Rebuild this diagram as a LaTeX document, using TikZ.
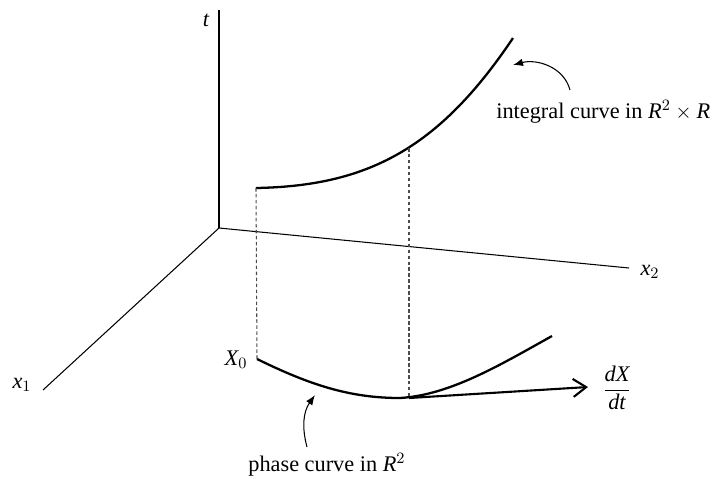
\documentclass[tikz,border=0pt]{standalone}
\usepackage{amsmath}
\usepackage{fontspec}
\setmainfont{Liberation Serif}
\usepackage{tikz}
\usetikzlibrary{arrows.meta, positioning}

\begin{document}
\begin{tikzpicture}[
    x=0.02cm, y=-0.02cm,
    font=\fontsize{12.7}{15}\selectfont,
    axis/.style={line width=0.6pt},
    curve/.style={line width=1.3pt},
    drop/.style={dashed, dash pattern=on 2pt off 1.4pt, line width=0.6pt, black!70},
    note/.style={->, line width=0.6pt, >={Latex[length=2mm, width=1.5mm]}},
    tangent/.style={->, line width=1.2pt, >={Straight Barb[length=2.6mm, width=3.6mm]}},
    lbl/.style={inner sep=0pt}
]
\useasboundingbox (0,0) rectangle (714,478);

% Axes
\coordinate (O) at (219,228);
\coordinate (tEnd) at (219,10);
\coordinate (xTwoEnd) at (629,268);
\coordinate (xOneEnd) at (43,390);
\draw[axis] (O) -- (tEnd);
\draw[axis] (O) -- (xTwoEnd);
\draw[axis] (O) -- (xOneEnd);
\node[lbl] (tlab) at (206,20) {$\mathit{t}$};
\node[lbl] (xtwolab) at (650,272) {$\mathit{x}_{2}$};
\node[lbl] (xonelab) at (22,385) {$\mathit{x}_{1}$};

% Integral curve
\coordinate (ic0) at (256,188);
\coordinate (icA) at (409,148);
\coordinate (ic1) at (513,38);
\draw[curve] (ic0) .. controls (366,186) and (438,150) .. (ic1);

% Phase curve
\coordinate (pc0) at (257,359);
\coordinate (pcA) at (409,398);
\coordinate (pc1) at (552,336);
\draw[curve] (pc0) .. controls (310,385) and (350,398) .. (400,398)
    .. controls (450,395) and (500,365) .. (pc1);
\node[lbl] (xzero) at (236,360) {$\mathit{X}_{0}$};

% Projections
\draw[drop] (ic0) -- (pc0);
\draw[drop] (icA) -- (pcA);

% Tangent vector
\coordinate (tipv) at (588,387);
\draw[tangent] (pcA) -- (tipv);
\node[lbl] (dxdt) at (617,388) {$\dfrac{\mathit{dX}}{\mathit{dt}}$};

% Annotations
\node[lbl, anchor=base west] (inttext) at (496,118) {integral curve in $\mathit{R}^{2}\times\mathit{R}$};
\node[lbl, anchor=base west] (phasetext) at (248,471) {phase curve in $\mathit{R}^{2}$};
\coordinate (ia) at (570,90);
\coordinate (ib) at (513,65);
\coordinate (pa) at (307,447);
\coordinate (pb) at (315,395);
\draw[note] (ia) to[out=105, in=15] (ib);
\draw[note] (pa) to[out=105, in=235] (pb);

\end{tikzpicture}
\end{document}
